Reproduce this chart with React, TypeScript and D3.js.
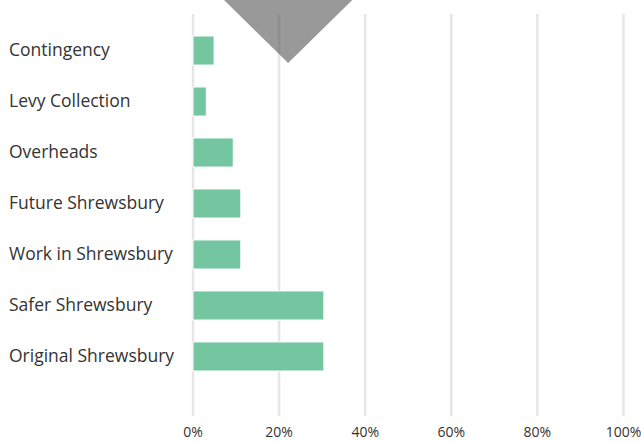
import React from "react";
import * as d3 from "d3";

const categories = [
  "Contingency",
  "Levy Collection",
  "Overheads",
  "Future Shrewsbury",
  "Work in Shrewsbury",
  "Safer Shrewsbury",
  "Original Shrewsbury",
];
const values = [4.9, 3.1, 9.35, 11.1, 11.1, 30.4, 30.4];
const ticks = [0, 20, 40, 60, 80, 100];

const W = 641;
const H = 442;
const FONT = "'Open Sans', Lato, 'DejaVu Sans', sans-serif";

export default function App() {
  const x = d3.scaleLinear().domain([0, 100]).range([193, 623.5]);
  const y = d3
    .scaleBand<string>()
    .domain(categories)
    .range([10.5, 396.5])
    .paddingInner(0.43)
    .paddingOuter(0.5);
  const gridTop = 14;
  const gridBottom = 416;

  return (
    <svg
      width={W}
      height={H}
      style={{ position: "absolute", left: 0, top: 0, display: "block" }}
    >
      <rect x={0} y={0} width={W} height={H} fill="#ffffff" />
      {ticks.map((t) => (
        <line
          key={"g" + t}
          x1={x(t)}
          x2={x(t)}
          y1={gridTop}
          y2={gridBottom}
          stroke="#e6e6e6"
          strokeWidth={2.5}
        />
      ))}
      <polygon
        points={`${x(7.2)},0 ${x(37)},0 ${x(22.1)},63`}
        fill="rgba(80,80,80,0.58)"
      />
      {categories.map((c, i) => (
        <rect
          key={"b" + c}
          x={x(0)}
          y={y(c)!}
          width={x(values[i]) - x(0)}
          height={y.bandwidth()}
          fill="#74c6a1"
          stroke="#ffffff"
          strokeWidth={1}
        />
      ))}
      {categories.map((c) => (
        <text
          key={"l" + c}
          x={9}
          y={y(c)! + y.bandwidth() / 2}
          dy="0.33em"
          fontFamily={FONT}
          fontSize={17.5}
          fill="#333333"
        >
          {c}
        </text>
      ))}
      {ticks.map((t) => (
        <text
          key={"t" + t}
          x={x(t)}
          y={437}
          textAnchor="middle"
          fontFamily={FONT}
          fontSize={14}
          fill="#333333"
        >
          {t + "%"}
        </text>
      ))}
    </svg>
  );
}
